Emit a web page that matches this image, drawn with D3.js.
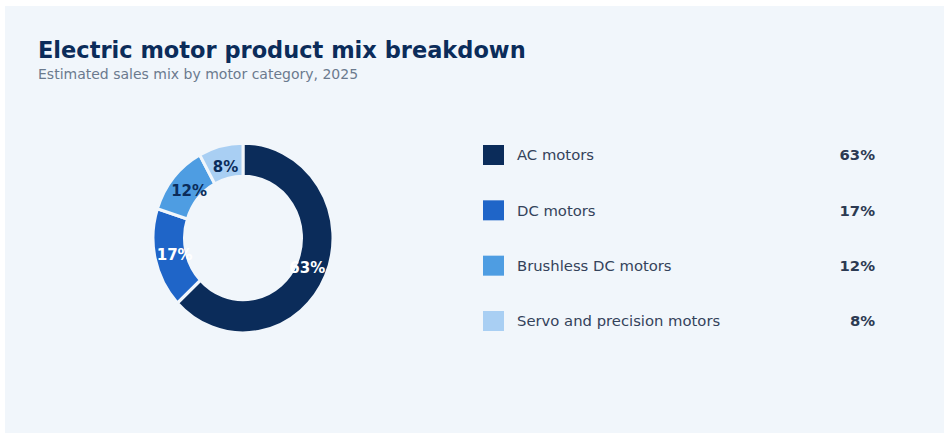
<!DOCTYPE html>
<html>
<head>
<meta charset="utf-8">
<script src="https://cdn.jsdelivr.net/npm/d3@7/dist/d3.min.js"></script>
<style>
  html, body { margin: 0; padding: 0; background: #ffffff; }
  svg { display: block; font-family: "DejaVu Sans", sans-serif; }
</style>
</head>
<body>
<svg id="chart" width="951" height="438"></svg>
<script>
const categories = ["AC motors", "DC motors", "Brushless DC motors", "Servo and precision motors"];
const shares = [63, 17, 12, 8];
const valueLabels = ["63%", "17%", "12%", "8%"];
const colors = ["#0b2c5a", "#1f65c8", "#4e9de2", "#a9cff3"];
const sliceLabelColors = ["#ffffff", "#ffffff", "#0b2c5a", "#0b2c5a"];

const title = "Electric motor product mix breakdown";
const subtitle = "Estimated sales mix by motor category, 2025";

const W = 951, H = 438;
const bg = "#f1f6fb";
const svg = d3.select("#chart");

svg.append("rect").attr("x", 5).attr("y", 6).attr("width", 939).attr("height", 427).attr("fill", bg);

svg.append("text").attr("x", 38).attr("y", 58)
  .attr("font-size", 22.5).attr("font-weight", "bold").attr("fill", "#0b2c5a").text(title);
svg.append("text").attr("x", 38).attr("y", 79)
  .attr("font-size", 14).attr("fill", "#6b7a8e").text(subtitle);

// Donut
const cx = 243, cy = 238, rOuter = 90, rInner = 58.5, rLabel = 70, ySquash = 1.055;
const data = categories.map((c, i) => ({ name: c, value: shares[i], i }));
const pie = d3.pie().value(d => d.value).sort(null);
const arcs = pie(data);
const arc = d3.arc().innerRadius(rInner).outerRadius(rOuter);
const labelArc = d3.arc().innerRadius(rLabel).outerRadius(rLabel);

const g = svg.append("g").attr("transform", `translate(${cx},${cy}) scale(1,${ySquash})`);
g.selectAll("path").data(arcs).join("path")
  .attr("d", arc)
  .attr("fill", d => colors[d.data.i])
  .attr("stroke", bg).attr("stroke-width", 3).attr("stroke-linejoin", "miter");

const lg = svg.append("g").attr("transform", `translate(${cx},${cy})`);
lg.selectAll("text").data(arcs).join("text")
  .attr("x", d => labelArc.centroid(d)[0])
  .attr("y", d => labelArc.centroid(d)[1] * ySquash)
  .attr("dy", "0.36em")
  .attr("text-anchor", "middle")
  .attr("font-size", 15).attr("font-weight", "bold")
  .attr("fill", d => sliceLabelColors[d.data.i])
  .text(d => valueLabels[d.data.i]);

// Legend
const rowY = d3.scalePoint().domain(categories).range([155, 321]);
const leg = svg.append("g");
const rows = leg.selectAll("g").data(data).join("g")
  .attr("transform", d => `translate(0,${rowY(d.name)})`);
rows.append("rect").attr("x", 483).attr("y", -10).attr("width", 21).attr("height", 20)
  .attr("fill", d => colors[d.i]);
rows.append("text").attr("x", 517).attr("dy", "0.35em")
  .attr("font-size", 14.8).attr("fill", "#34425a").text(d => d.name);
rows.append("text").attr("x", 875).attr("dy", "0.35em").attr("text-anchor", "end")
  .attr("font-size", 14.8).attr("font-weight", "bold").attr("fill", "#2c3a52")
  .text(d => valueLabels[d.i]);
</script>
</body>
</html>
